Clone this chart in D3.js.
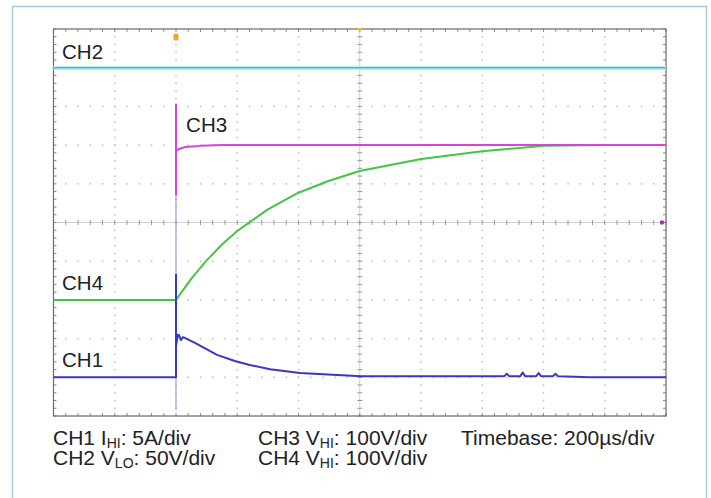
<!DOCTYPE html>
<html>
<head>
<meta charset="utf-8">
<script src="https://cdn.jsdelivr.net/npm/d3@7"></script>
<style>
  body { margin: 0; background: #fff; }
  svg { display: block; font-family: "Liberation Sans", Arial, Helvetica, sans-serif; }
</style>
</head>
<body>
<svg id="scope" width="711" height="498"></svg>
<script>
// time in µs relative to trigger, levels in screen divisions (0 = bottom, 10 = top)
var ch1Time  = [-400, 0, 0, 0, 6, 10, 16, 23, 62, 134, 192, 241, 307, 405, 604, 800, 1000, 1072, 1080, 1088, 1124, 1132, 1140, 1176, 1184, 1192, 1231, 1239, 1247, 1350, 1600];
var ch1Level = [1.0, 1.0, 3.65, 1.8, 2.1, 2.09, 1.96, 2.04, 1.89, 1.58, 1.42, 1.32, 1.21, 1.11, 1.03, 1.03, 1.03, 1.03, 1.09, 1.03, 1.03, 1.12, 1.03, 1.03, 1.11, 1.03, 1.03, 1.09, 1.03, 1.0, 1.0];

var ch2Time  = [-400, 1600];
var ch2Level = [9.0, 9.0];

var ch3Time  = [0, 0, 0, 10, 30, 80, 150, 400, 800, 1200, 1600];
var ch3Level = [5.7, 8.05, 6.85, 6.9, 6.95, 6.98, 7.0, 7.0, 7.0, 7.0, 7.0];
var ch3EdgeLevel = [0.15, 5.7];   // faint fast edge at trigger

var ch4Time  = [-400, 0, 50, 100, 150, 200, 300, 400, 500, 600, 800, 1000, 1200, 1400, 1600];
var ch4Level = [3.0, 3.0, 3.55, 4.02, 4.43, 4.78, 5.34, 5.77, 6.08, 6.33, 6.64, 6.84, 6.98, 7.0, 7.0];

var traceLabels = [
  {name: 'CH2', t: -372, lv: 9.22},
  {name: 'CH3', t: 33, lv: 7.34},
  {name: 'CH4', t: -372, lv: 3.26},
  {name: 'CH1', t: -372, lv: 1.27}
];

var svg = d3.select('#scope');

var x = d3.scaleLinear().domain([-400, 1600]).range([53.5, 666]);
var y = d3.scaleLinear().domain([0, 10]).range([416, 29]);

// outer frame
svg.append('rect')
    .attr('x', 12.5).attr('y', 6.5)
    .attr('width', 694).attr('height', 510)
    .attr('fill', 'none')
    .attr('stroke', '#a9cbdc')
    .attr('stroke-width', 1.5);

var grid = svg.append('g');
var majorX = x.ticks(10);
var majorY = y.ticks(10);
var minorX = d3.range(-400, 1600.1, 40);
var minorY = d3.range(0, 10.01, 0.2);

// dotted graticule
majorX.slice(1, -1).forEach(function(t) {
    if (t == 600) return;
    grid.selectAll(null)
        .data(minorY)
      .enter().append('rect')
        .attr('x', x(t) - 0.7).attr('y', function(d) { return y(d) - 0.7; })
        .attr('width', 1.5).attr('height', 1.5)
        .attr('fill', '#bdbdbd');
});
majorY.slice(1, -1).forEach(function(v) {
    if (v == 5) return;
    grid.selectAll(null)
        .data(minorX)
      .enter().append('rect')
        .attr('x', function(d) { return x(d) - 0.7; }).attr('y', y(v) - 0.7)
        .attr('width', 1.5).attr('height', 1.5)
        .attr('fill', '#bdbdbd');
});

// centre axes with ticks
grid.append('line')
    .attr('x1', x(600)).attr('x2', x(600))
    .attr('y1', y(0)).attr('y2', y(10))
    .attr('stroke', '#d0d0d0').attr('stroke-width', 1);
grid.append('line')
    .attr('x1', x(-400)).attr('x2', x(1600))
    .attr('y1', y(5)).attr('y2', y(5))
    .attr('stroke', '#d0d0d0').attr('stroke-width', 1);
grid.selectAll('.cty')
    .data(minorY)
  .enter().append('line')
    .attr('x1', x(600) - 2.5).attr('x2', x(600) + 2.5)
    .attr('y1', function(d) { return y(d); }).attr('y2', function(d) { return y(d); })
    .attr('stroke', '#9a9a9a');
grid.selectAll('.ctx')
    .data(minorX)
  .enter().append('line')
    .attr('y1', y(5) - 2.5).attr('y2', y(5) + 2.5)
    .attr('x1', function(d) { return x(d); }).attr('x2', function(d) { return x(d); })
    .attr('stroke', '#9a9a9a');

// border ticks
grid.selectAll('.btx')
    .data(minorX)
  .enter().append('path')
    .attr('d', function(d) { return 'M' + x(d) + ',' + y(10) + 'v3M' + x(d) + ',' + y(0) + 'v-3'; })
    .attr('stroke', '#8a8a8a');
grid.selectAll('.bty')
    .data(minorY)
  .enter().append('path')
    .attr('d', function(d) { return 'M' + x(-400) + ',' + y(d) + 'h3M' + x(1600) + ',' + y(d) + 'h-3'; })
    .attr('stroke', '#8a8a8a');

grid.append('rect')
    .attr('x', x(-400)).attr('y', y(10))
    .attr('width', x(1600) - x(-400)).attr('height', y(0) - y(10))
    .attr('fill', 'none')
    .attr('stroke', '#6a6a6a')
    .attr('stroke-width', 1.2);

// traces
var line = d3.line()
    .x(function(d) { return x(d[0]); })
    .y(function(d) { return y(d[1]); });

function drawTrace(times, levels, color, width, opacity) {
    svg.append('path')
        .datum(d3.zip(times, levels))
        .attr('d', line)
        .attr('fill', 'none')
        .attr('stroke', color)
        .attr('stroke-width', width)
        .attr('stroke-opacity', opacity || 1)
        .attr('stroke-linejoin', 'round');
}

drawTrace(ch2Time, ch2Level, '#b8eef0', 4);
drawTrace(ch2Time, ch2Level, '#3cc4cc', 1.6);
drawTrace([0, 0], ch3EdgeLevel, '#b090d0', 1.4, 0.8);
drawTrace(ch4Time, ch4Level, '#44c444', 2);
drawTrace(ch3Time, ch3Level, '#d645d6', 2);
drawTrace(ch1Time, ch1Level, '#3838c4', 2);

// markers
svg.append('rect')
    .attr('x', x(0) - 2.5).attr('y', 33.5)
    .attr('width', 5).attr('height', 7).attr('rx', 2)
    .attr('fill', '#f0a030');
svg.append('path')
    .attr('d', 'M' + (x(600) - 3) + ',' + 28 + 'h6l-3,4z')
    .attr('fill', '#e0c030');
svg.append('circle')
    .attr('cx', x(1600) - 4).attr('cy', y(5))
    .attr('r', 2.2)
    .attr('fill', '#9a3aa8');

// trace labels
svg.selectAll('.trace-label')
    .data(traceLabels)
  .enter().append('text')
    .attr('class', 'trace-label')
    .attr('x', function(d) { return x(d.t); })
    .attr('y', function(d) { return y(d.lv); })
    .attr('font-size', 20.5)
    .attr('fill', '#222')
    .text(function(d) { return d.name; });

// settings legend
var settings = [
  {x: 53, y: 445, pre: 'CH1 I', sub: 'HI', post: ': 5A/div'},
  {x: 53, y: 465, pre: 'CH2 V', sub: 'LO', post: ': 50V/div'},
  {x: 258, y: 445, pre: 'CH3 V', sub: 'HI', post: ': 100V/div'},
  {x: 258, y: 465, pre: 'CH4 V', sub: 'HI', post: ': 100V/div'},
  {x: 461, y: 445, pre: 'Timebase: 200µs/div', sub: '', post: ''}
];

settings.forEach(function(s) {
    var t = svg.append('text')
        .attr('x', s.x).attr('y', s.y)
        .attr('font-size', 21)
        .attr('fill', '#222');
    t.append('tspan').text(s.pre);
    if (s.sub) {
        t.append('tspan').attr('font-size', 14).attr('dy', 3).text(s.sub);
        t.append('tspan').attr('dy', -3).text(s.post);
    }
});
</script>
</body>
</html>
